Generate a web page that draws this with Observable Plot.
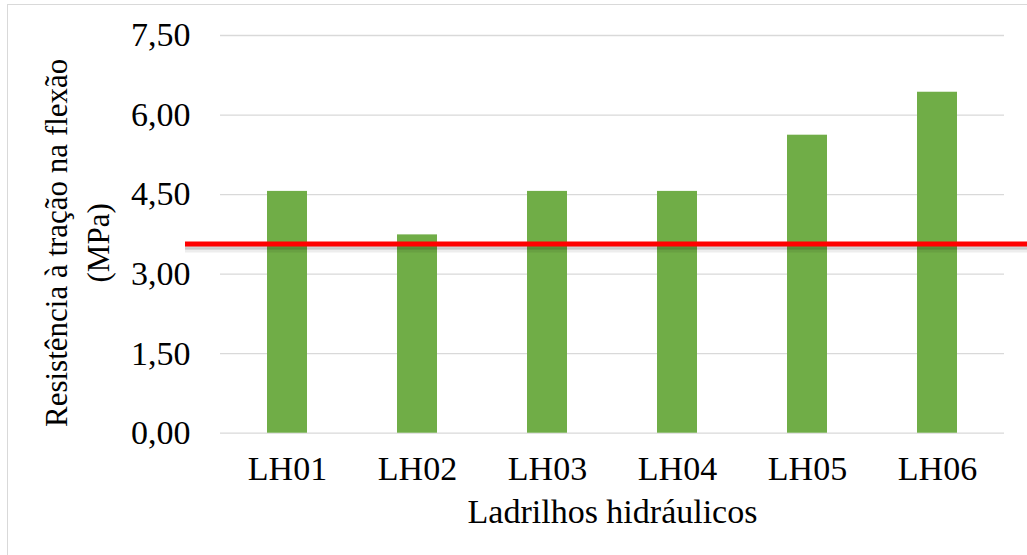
<!DOCTYPE html>
<html>
<head>
<meta charset="utf-8">
<script src="https://cdn.jsdelivr.net/npm/d3@7"></script>
<script src="https://cdn.jsdelivr.net/npm/@observablehq/plot@0.6"></script>
<style>
  html, body { margin: 0; padding: 0; background: #fff; }
  #chart { position: relative; width: 1027px; height: 555px; overflow: hidden; }
  #chart svg { position: absolute; left: 0; top: 0; }
  #border { position: absolute; left: 7px; top: 4px; width: 1100px; height: 700px;
            border: 1.5px solid #d9d9d9; pointer-events: none; }
</style>
</head>
<body>
<div id="chart"><div id="border"></div></div>
<script>
// Hydraulic tiles tested
const tiles = ["LH01", "LH02", "LH03", "LH04", "LH05", "LH06"];
// Flexural tensile strength (MPa)
const strength = [4.56, 3.74, 4.56, 4.56, 5.62, 6.43];
// Minimum required strength (MPa)
const reference = 3.57;
// Y axis ticks
const yTicks = [0, 1.5, 3, 4.5, 6, 7.5];

const xTitle = "Ladrilhos hidráulicos";
const yTitle = "Resistência à tração na flexão\n(MPa)";

const rows = tiles.map((tile, i) => ({tile, value: strength[i]}));
const fmt = v => d3.format(".2f")(v).replace(".", ",");
const serif = "Liberation Serif";
const fs = 34;

const chart = Plot.plot({
  width: 1027,
  height: 555,
  marginLeft: 220,
  marginRight: 23,
  marginTop: 35,
  marginBottom: 122.3,
  style: {fontFamily: serif, fontSize: fs + "px", color: "#000", background: "transparent"},
  x: {domain: tiles, paddingInner: 0.694, paddingOuter: 0.347, label: null},
  y: {domain: [0, 7.5], label: null},
  marks: [
    Plot.gridY(yTicks, {stroke: "#d9d9d9", strokeOpacity: 1, strokeWidth: 1.3}),
    Plot.barY(rows, {x: "tile", y: "value", fill: "#70ad47"}),
    // soft shadow under the reference line
    Plot.ruleY([reference], {stroke: "#000", strokeOpacity: 0.18, strokeWidth: 4, dy: 3.5, insetLeft: -35, insetRight: -30}),
    Plot.ruleY([reference], {stroke: "#000", strokeOpacity: 0.07, strokeWidth: 4, dy: 6.5, insetLeft: -35, insetRight: -30}),
    Plot.ruleY([reference], {stroke: "#ff0000", strokeWidth: 5, insetLeft: -35, insetRight: -30}),
    Plot.axisY(yTicks, {tickSize: 0, tickPadding: 30, tickFormat: fmt, label: null, fontSize: fs, fontFamily: serif}),
    Plot.axisX({tickSize: 0, tickPadding: 22.5, label: null, fontSize: fs, fontFamily: serif}),
    Plot.text([xTitle], {frameAnchor: "bottom", lineAnchor: "middle", dy: 78.6, fontSize: fs,
                         fontFamily: serif, fill: "#000"}),
    Plot.text([yTitle], {frameAnchor: "left", rotate: -90, dx: -146, dy: 8.5, lineHeight: 1.35,
                         textAnchor: "middle", lineAnchor: "middle", fontSize: 31, fontFamily: serif, fill: "#000"})
  ]
});

document.getElementById("chart").prepend(chart);
</script>
</body>
</html>
